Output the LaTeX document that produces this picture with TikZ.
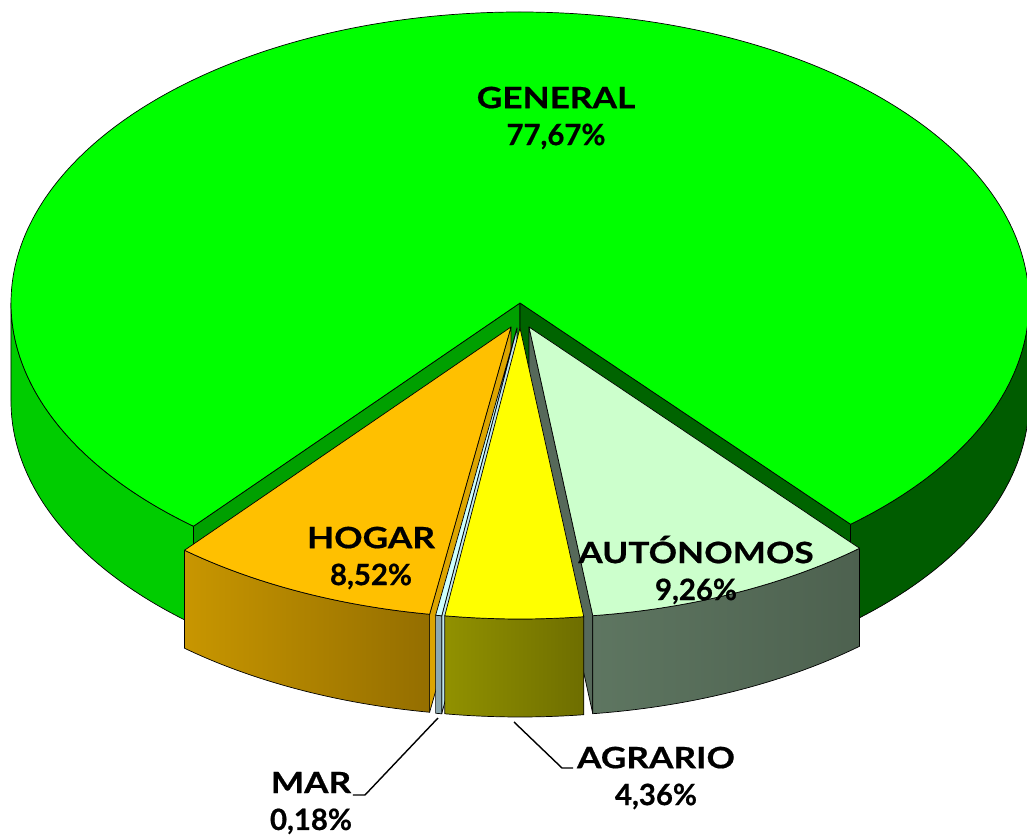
\documentclass[tikz,border=0pt]{standalone}
\usepackage{fontspec}
\newfontfamily\lblfont{Lato}[FakeStretch=1.2,FakeBold=0.6]
\newfontfamily\pctfont{Lato}[FakeBold=0.6]
\usepackage{tikz}

\definecolor{genTop}{HTML}{00FF00}
\definecolor{genSideL}{HTML}{00CC00}
\definecolor{genCutL}{HTML}{00A000}
\definecolor{genSideR}{HTML}{005C00}
\definecolor{genCutR}{HTML}{006400}
\definecolor{hogTop}{HTML}{FFC000}
\definecolor{hogCut}{HTML}{DCA500}
\definecolor{hogSideL}{HTML}{C89600}
\definecolor{hogSideR}{HTML}{946E00}
\definecolor{marTop}{HTML}{CCFFFF}
\definecolor{marCut}{HTML}{BEE6EE}
\definecolor{marSide}{HTML}{8CA8B0}
\definecolor{agrTop}{HTML}{FFFF00}
\definecolor{agrSideL}{HTML}{919100}
\definecolor{agrSideR}{HTML}{6E6E00}
\definecolor{autTop}{HTML}{CCFFCC}
\definecolor{autCut}{HTML}{56695A}
\definecolor{autSideL}{HTML}{5E7661}
\definecolor{autSideR}{HTML}{4D614F}

\tikzset{
  face/.style={draw=black,line width=0.4pt,line join=round},
  rim/.style={x radius=509,y radius=291},
  lbl/.style={font=\lblfont\bfseries\fontsize{16.7}{21}\selectfont,align=center,inner sep=0pt},
  leader/.style={draw=black,line width=0.8pt}
}

\begin{document}
\begin{tikzpicture}[x=0.02cm,y=0.02cm]
      \useasboundingbox (-520,-534) rectangle (507,303);
      % GENERAL
      \draw[face,fill=genSideL] (180:509 and 291) arc[rim,start angle=180,end angle=230.1] -- ++(0,-98) arc[rim,start angle=230.1,end angle=180] -- cycle;
      \draw[face,fill=genSideR] (310.5:509 and 291) arc[rim,start angle=310.5,end angle=360] -- ++(0,-98) arc[rim,start angle=360,end angle=310.5] -- cycle;
      \draw[face,fill=genCutL] (0,0) -- (230.1:509 and 291) -- ++(0,-98) -- (0,-98) -- cycle;
      \draw[face,fill=genCutR] (0,0) -- (310.5:509 and 291) -- ++(0,-98) -- (0,-98) -- cycle;
      \draw[face,fill=genTop] (0,0) -- (310.5:509 and 291) arc[rim,start angle=310.5,end angle=590.1] -- cycle;
      % HOGAR
      \begin{scope}[shift={(-9,-24)}]
        \draw[face,fill=hogCut] (0,0) -- (260.8:509 and 291) -- ++(0,-98) -- (0,-98) -- cycle;
        \draw[face,left color=hogSideL,right color=hogSideR] (230.1:509 and 291) arc[rim,start angle=230.1,end angle=260.8] -- ++(0,-98) arc[rim,start angle=260.8,end angle=230.1] -- cycle;
        \draw[face,fill=hogTop] (0,0) -- (230.1:509 and 291) arc[rim,start angle=230.1,end angle=260.8] -- cycle;
      \end{scope}
      % AUTONOMOS
      \begin{scope}[shift={(9,-24)}]
        \draw[face,fill=autCut] (0,0) -- (277.2:509 and 291) -- ++(0,-98) -- (0,-98) -- cycle;
        \draw[face,left color=autSideL,right color=autSideR] (277.2:509 and 291) arc[rim,start angle=277.2,end angle=310.5] -- ++(0,-98) arc[rim,start angle=310.5,end angle=277.2] -- cycle;
        \draw[face,fill=autTop] (0,0) -- (277.2:509 and 291) arc[rim,start angle=277.2,end angle=310.5] -- cycle;
      \end{scope}
      % MAR
      \begin{scope}[shift={(-3,-25)}]
        \draw[face,fill=marCut] (0,0) -- (261.5:509 and 291) -- ++(0,-98) -- (0,-98) -- cycle;
        \draw[face,fill=marSide] (260.8:509 and 291) arc[rim,start angle=260.8,end angle=261.5] -- ++(0,-98) arc[rim,start angle=261.5,end angle=260.8] -- cycle;
        \draw[face,fill=marTop] (0,0) -- (260.8:509 and 291) arc[rim,start angle=260.8,end angle=261.5] -- cycle;
      \end{scope}
      % AGRARIO
      \begin{scope}[shift={(0,-25)}]
        \draw[face,left color=agrSideL,right color=agrSideR] (261.5:509 and 291) arc[rim,start angle=261.5,end angle=277.2] -- ++(0,-98) arc[rim,start angle=277.2,end angle=261.5] -- cycle;
        \draw[face,fill=agrTop] (0,0) -- (261.5:509 and 291) arc[rim,start angle=261.5,end angle=277.2] -- cycle;
      \end{scope}
      % labels
      \node[lbl] (general) at (36,185) {GENERAL\\\pctfont 77,67\%};
      \node[lbl] (hogar) at (-149,-255) {HOGAR\\\pctfont 8,52\%};
      \node[lbl] (autonomos) at (176,-267) {AUTÓNOMOS\\\pctfont 9,26\%};
      \node[lbl] (agrario) at (136,-475) {AGRARIO\\\pctfont 4,36\%};
      \node[lbl] (mar) at (-209,-500) {MAR\\\pctfont 0,18\%};
      \coordinate (marpt) at (-82,-415);
      \coordinate (marknee) at (-155,-492);
      \coordinate (marend) at (-167,-492);
      \coordinate (agrpt) at (-6,-419);
      \coordinate (agrknee) at (42,-465);
      \coordinate (agrend) at (53,-465);
      \draw[leader] (marpt) -- (marknee) -- (marend);
      \draw[leader] (agrpt) -- (agrknee) -- (agrend);
    \end{tikzpicture}
\end{document}
